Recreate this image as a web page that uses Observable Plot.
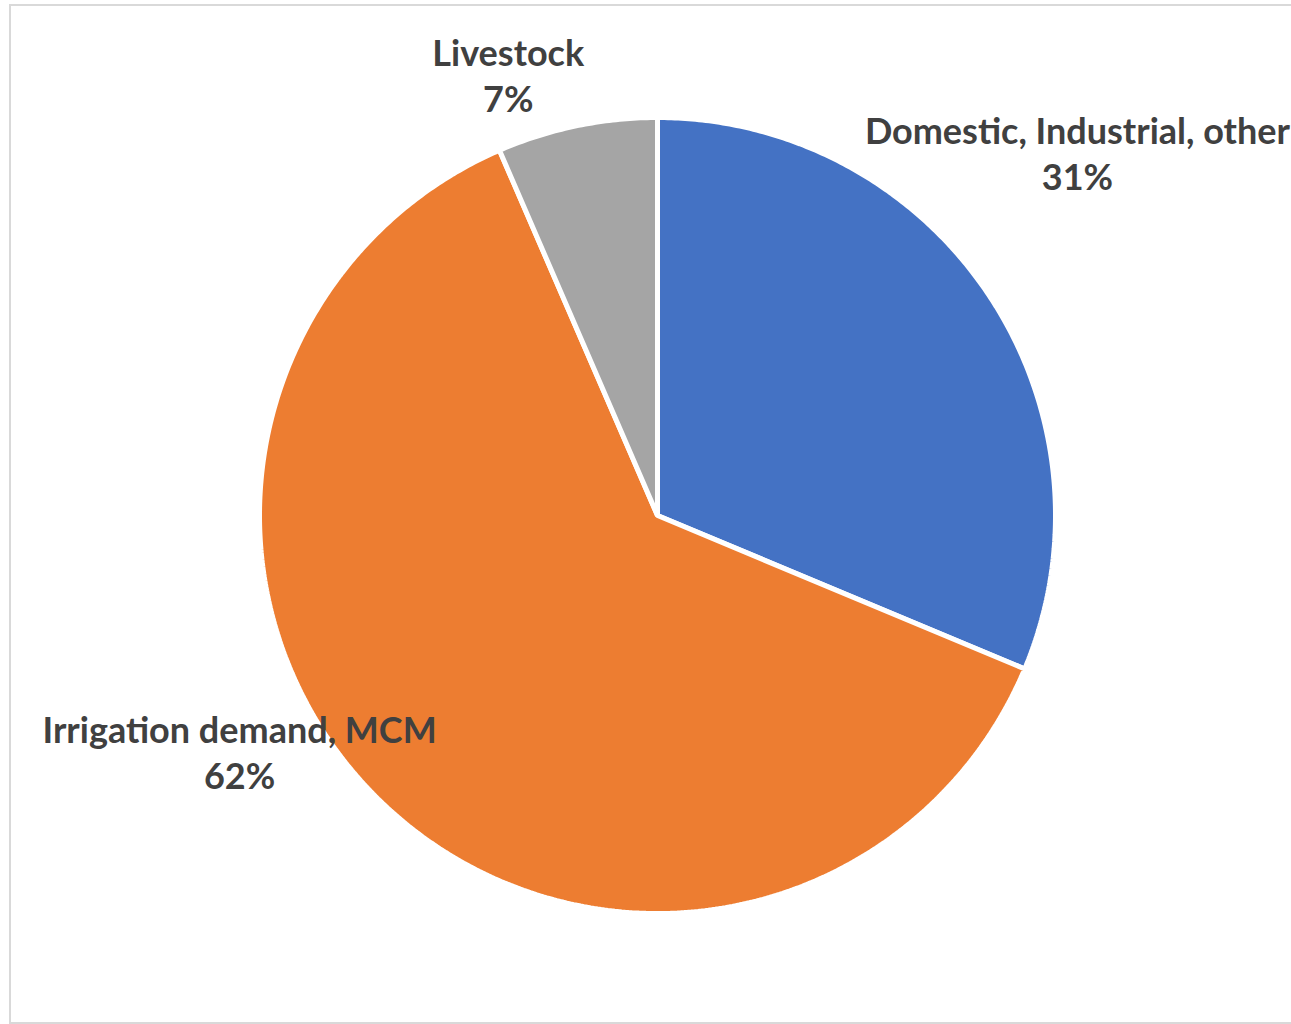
<!DOCTYPE html>
<html>
<head>
<meta charset="utf-8">
<script src="https://cdn.jsdelivr.net/npm/d3@7"></script>
<script src="https://cdn.jsdelivr.net/npm/@observablehq/plot@0.6"></script>
<style>
  html, body { margin: 0; padding: 0; background: #fff; }
  #wrap { position: relative; width: 1291px; height: 1024px; overflow: hidden; }
  #border { position: absolute; left: 9px; top: 4px; width: 1300px; height: 1016px; border: 2px solid #d9d9d9; pointer-events: none; }
</style>
</head>
<body>
<div id="wrap"><div id="border"></div></div>
<script>
// Data (clockwise from 12 o'clock)
const categories = ["Domestic, Industrial, other", "Irrigation demand, MCM", "Livestock"];
const shares = [31.3, 62.2, 6.5];
const pctLabels = ["31%", "62%", "7%"];
const colors = ["#4472C4", "#ED7D31", "#A5A5A5"];

// label anchor positions in unit-circle coordinates (radius = 1)
const labelX = [1.055, -1.05, -0.375];
const labelY = [1.015, -0.489, 1.211];

const pie = d3.pie().sort(null).value(d => d)(shares);

// Build slice outlines as closed polygons
const pts = [];
pie.forEach((p, i) => {
  const n = Math.max(4, Math.ceil((p.endAngle - p.startAngle) / (Math.PI / 360)));
  pts.push({name: categories[i], x: 0, y: 0});
  for (let k = 0; k <= n; k++) {
    const a = p.startAngle + (p.endAngle - p.startAngle) * k / n;
    pts.push({name: categories[i], x: Math.sin(a), y: Math.cos(a)});
  }
});

const labels = [];
categories.forEach((c, i) => {
  labels.push({x: labelX[i], y: labelY[i], text: c + "\n" + pctLabels[i]});
});

const W = 1291, H = 1024, R = 398, CX = 657, CY = 515;
const chart = Plot.plot({
  width: W, height: H,
  margin: 0,
  x: {domain: [-CX / R, (W - CX) / R], axis: null},
  y: {domain: [-(H - CY) / R, CY / R], axis: null},
  color: {domain: categories, range: colors},
  style: {background: "transparent"},
  marks: [
    Plot.line(pts, {x: "x", y: "y", z: "name", fill: "name", stroke: "white", strokeWidth: 5, curve: "linear-closed", strokeLinejoin: "miter"}),
    Plot.text(labels, {x: "x", y: "y", text: "text", fill: "#404040", fontSize: 36, fontWeight: "bold", fontFamily: "Lato", lineHeight: 1.28, textAnchor: "middle", lineAnchor: "top"})
  ]
});
document.getElementById("wrap").prepend(chart);
</script>
</body>
</html>
